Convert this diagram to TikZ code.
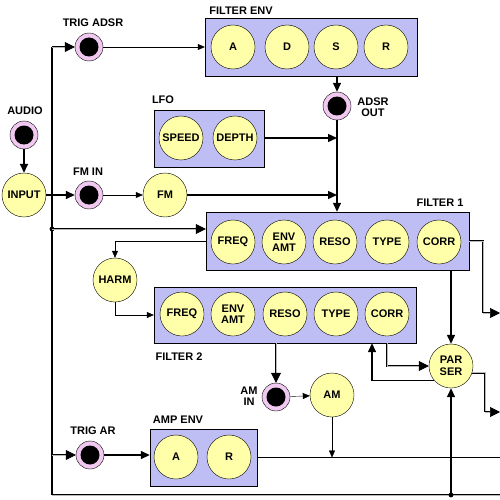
\documentclass[tikz,border=0pt]{standalone}
\usepackage{fontspec}
\setmainfont{Liberation Sans}
\usetikzlibrary{arrows.meta}
\definecolor{panelblue}{RGB}{190,190,245}
\definecolor{knobyellow}{RGB}{255,255,170}
\definecolor{jackpink}{RGB}{240,200,240}
\begin{document}
\begin{tikzpicture}[x=1pt,y=-1pt,
    font=\fontsize{11}{11.5}\selectfont\bfseries,
    panel/.style={draw,fill=panelblue,inner sep=0pt},
    knob/.style={circle,draw,fill=knobyellow,minimum size=44pt,inner sep=0pt,align=center},
    jack/.style={circle,draw,fill=jackpink,minimum size=28pt,inner sep=0pt,
      path picture={\fill[black] (path picture bounding box.center) circle (9.5pt);}},
    lbl/.style={inner sep=0pt,align=center},
    wire/.style={-{Triangle[length=7pt,width=6pt]}},
    fat/.style={line width=1.4pt,-{Triangle[length=9pt,width=8pt]}},
    dbl/.style={double=gray!55,double distance=0.9pt,line width=0.7pt,-{Triangle[length=10pt,width=10pt]}}]
  \useasboundingbox (0,0) rectangle (500,500);
  \node[panel,minimum width=212pt,minimum height=58pt] (fenv) at (311,47) {};
  \node[panel,minimum width=110pt,minimum height=57pt] (lfo) at (209,138.5) {};
  \node[panel,minimum width=263pt,minimum height=58pt] (filt1) at (337.5,241) {};
  \node[panel,minimum width=262pt,minimum height=56pt] (filt2) at (285,315) {};
  \node[panel,minimum width=107pt,minimum height=57pt] (ampenv) at (203.5,457.5) {};
  \path
    (233,47) node[knob] (fenvA){A}
    (287,47) node[knob] (fenvD){D}
    (336,47) node[knob] (fenvS){S}
    (386,47) node[knob] (fenvR){R}
    (181,138) node[knob] (speed){SPEED}
    (235,138) node[knob] (depth){DEPTH}
    (24,195) node[knob] (input){INPUT}
    (165,195) node[knob] (fm){FM}
    (115,280) node[knob] (harm){HARM}
    (332,395) node[knob] (am){AM}
    (451,366) node[knob] (parser){PAR\\SER}
    (233,242) node[knob] (f1freq){FREQ}
    (284,242) node[knob] (f1env){ENV\\AMT}
    (335,242) node[knob] (f1reso){RESO}
    (387,242) node[knob] (f1type){TYPE}
    (439,242) node[knob] (f1corr){CORR}
    (182,314) node[knob] (f2freq){FREQ}
    (233,314) node[knob] (f2env){ENV\\AMT}
    (285,314) node[knob] (f2reso){RESO}
    (336,314) node[knob] (f2type){TYPE}
    (387,314) node[knob] (f2corr){CORR}
    (176,457) node[knob] (ampA){A}
    (229,457) node[knob] (ampR){R};
  \path
    (89,47) node[jack] (trigadsr){}
    (24,135) node[jack] (audio){}
    (89,195) node[jack] (fmin){}
    (337,106) node[jack] (adsrout){}
    (276,397) node[jack] (amin){}
    (90,455) node[jack] (trigar){};
  \path
    (93,23) node[lbl] (ltrigadsr){TRIG ADSR}
    (241,11) node[lbl] (lfenv){FILTER ENV}
    (25,111) node[lbl] (laudio){AUDIO}
    (163,100) node[lbl] (llfo){LFO}
    (88,172) node[lbl] (lfmin){FM IN}
    (373,107) node[lbl] (ladsrout){ADSR\\OUT}
    (440,203) node[lbl] (lfilt1){FILTER 1}
    (179,357) node[lbl] (lfilt2){FILTER 2}
    (249,396) node[lbl] (lamin){AM\\IN}
    (178,420) node[lbl] (lampenv){AMP ENV}
    (93,431) node[lbl] (ltrigar){TRIG AR};
  \coordinate (bustop) at (52,47);
  \coordinate (busf1) at (52,229);
  \coordinate (busar) at (52,455);
  \coordinate (busbot) at (52,495);
  \coordinate (botright) at (500,495);
  \coordinate (psbot) at (451,495);
  \coordinate (f1turn) at (483,313);
  \coordinate (f1out) at (500,313);
  \coordinate (psturn) at (485,412);
  \coordinate (psout) at (500,412);
  \coordinate (ampout) at (500,457.5);
  \draw[line width=1.4pt] (bustop) -- (busbot);
  \draw[dbl,-] (busbot) -- (botright);
  \fill (busf1) circle (2.4pt) (psbot) circle (2.4pt);
  \draw[dbl] (bustop) -- (trigadsr);
  \draw[wire] (trigadsr) -- (fenv.west);
  \draw[fat] (audio) -- (input);
  \draw[fat] (input) -- (fmin);
  \draw[wire] (fmin) -- (fm);
  \draw[fat] (fenv.south -| adsrout) -- (adsrout);
  \draw[fat] (adsrout) -- (adsrout |- filt1.north);
  \draw[fat] (lfo.east |- depth) -- (depth -| adsrout);
  \draw[fat] (fm) -- (fm -| adsrout);
  \draw[dbl] (busf1) -- (busf1 -| filt1.west);
  \draw[wire] (filt1.west) -| (harm);
  \draw[wire] (harm) |- (filt2.west);
  \draw[dbl,-] (filt1.east) -| (f1turn);
  \draw[dbl] (f1turn) -- (f1out);
  \draw[fat] (filt1.south -| parser) -- (parser);
  \draw[dbl] (filt2.south -| amin) -- (amin);
  \draw[wire] (amin) -- (am);
  \draw[wire] (am) -- (am |- ampenv.east);
  \draw (ampenv.east) -- (ampout);
  \draw[dbl] (busar) -- (trigar);
  \draw[fat] (trigar) -- (trigar -| ampenv.west);
  \draw[dbl] (filt2.south -| f2corr) |- (parser);
  \draw[fat] (parser.220) -| ([xshift=-15pt]f2corr |- filt2.south);
  \draw[dbl,-] (parser.-18) -| (psturn);
  \draw[dbl] (psturn) -- (psout);
  \draw[fat] (psbot) -- (parser);
\end{tikzpicture}
\end{document}
